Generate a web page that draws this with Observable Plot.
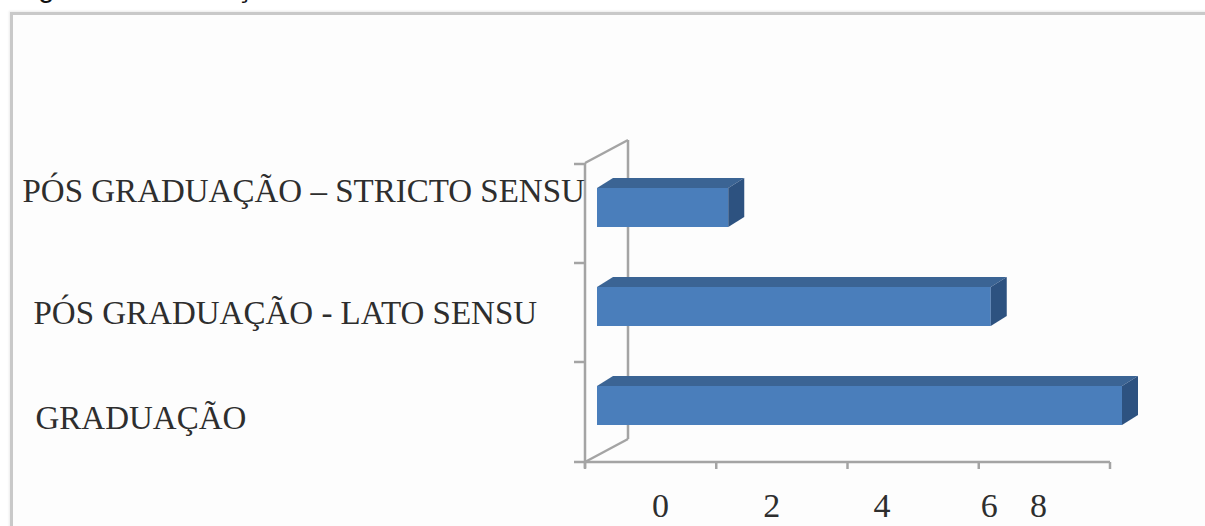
<!DOCTYPE html>
<html lang="pt">
<head>
<meta charset="utf-8">
<script src="https://cdn.jsdelivr.net/npm/d3@7"></script>
<script src="https://cdn.jsdelivr.net/npm/@observablehq/plot@0.6"></script>
<style>
  html, body { margin: 0; padding: 0; background: #fff; width: 1205px; height: 526px; overflow: hidden; }
  #title {
    position: absolute; left: 14px; top: -27px;
    font: 29px/29px "Liberation Sans", Arial, sans-serif;
    white-space: nowrap; color: #111;
  }
  #frame {
    position: absolute; left: 10px; top: 12px; width: 1300px; height: 600px;
    border-left: 3px solid #c9c9c9; border-top: 3px solid #c9c9c9;
    background: #fdfdfd;
    box-shadow: -1px -1px 2px rgba(0,0,0,0.08);
  }
  #chart { position: absolute; left: 0; top: 0; }
</style>
</head>
<body>
<div id="title">Figura 4 – Formação acadêmica dos docentes entrevistados</div>
<div id="frame"></div>
<div id="chart"></div>
<script>
// Formação acadêmica: number of respondents per level
const categories = ["PÓS GRADUAÇÃO – STRICTO SENSU", "PÓS GRADUAÇÃO - LATO SENSU", "GRADUAÇÃO"];
const counts = [2, 6, 8];
const xTicks = [0, 2, 4, 6, 8];

const rows = categories.map((category, i) => ({category, count: counts[i]}));

// look of the 3-D bars and walls
const FRONT = "#4a7ebb", TOP = "#3b6494", SIDE = "#2d5280", GRID = "#a4a4a4", INK = "#2e2e2e";
const SERIF = "'Liberation Serif', 'DejaVu Serif', serif";
const WALL = [43, -23];                 // offset of the back wall
const BAR = {dx: 12, dy: -6, depth: [16, -10], inset: 30};
// label placement
const labelNudge = [[-563, -23], [-552, 0], [-550, 6]];
const tickLabelShift = [75, 55, 34, 10, -72];

// walls, floor edge and ticks
function chrome(index, scales, values, dims) {
  const {x, y} = scales;
  const x0 = x(0), x1 = x(xTicks[xTicks.length - 1]);
  const top = dims.marginTop, bot = dims.height - dims.marginBottom;
  const g = d3.create("svg:g").attr("stroke", GRID).attr("stroke-width", 2.5).attr("fill", "none");
  const seg = (a, b, c, d) => g.append("line").attr("x1", a).attr("y1", b).attr("x2", c).attr("y2", d);
  seg(x0, top, x0, bot + 6);
  seg(x0 + WALL[0], top + WALL[1], x0 + WALL[0], bot + WALL[1]);
  seg(x0, top, x0 + WALL[0], top + WALL[1]);
  seg(x0, bot, x0 + WALL[0], bot + WALL[1]);
  seg(x0 - 11, bot, x1, bot);
  for (const t of xTicks) seg(x(t), bot, x(t), bot + 7);
  for (const c of categories) seg(x0 - 11, y(c), x0, y(c));
  return g.node();
}

// top and side faces of each bar
function barFaces(index, scales) {
  const {x, y} = scales;
  const bw = typeof y.bandwidth === "function" ? y.bandwidth() : y.bandwidth;
  const [ddx, ddy] = BAR.depth;
  const g = d3.create("svg:g");
  for (const r of rows) {
    const xa = x(0) + BAR.dx, xb = x(r.count) + BAR.dx;
    const yt = y(r.category) + BAR.inset + BAR.dy;
    const yb = y(r.category) + bw - BAR.inset + BAR.dy;
    g.append("path").attr("fill", TOP)
      .attr("d", `M${xa},${yt}L${xb},${yt}L${xb + ddx},${yt + ddy}L${xa + ddx},${yt + ddy}Z`);
    g.append("path").attr("fill", SIDE)
      .attr("d", `M${xb},${yt}L${xb + ddx},${yt + ddy}L${xb + ddx},${yb + ddy}L${xb},${yb}Z`);
  }
  return g.node();
}

const chart = Plot.plot({
  width: 1205,
  height: 526,
  marginLeft: 585,
  marginRight: 95,
  marginTop: 163,
  marginBottom: 64,
  style: {background: "transparent", overflow: "visible"},
  x: {domain: [0, 8], axis: null},
  y: {domain: categories, axis: null, padding: 0},
  marks: [
    chrome,
    Plot.barX(rows, {
      x: "count", y: "category", fill: FRONT,
      insetTop: BAR.inset, insetBottom: BAR.inset, dx: BAR.dx, dy: BAR.dy
    }),
    barFaces,
    ...categories.map((c, i) => Plot.text([c], {
      y: d => d, text: d => d, frameAnchor: "left", textAnchor: "start",
      dx: labelNudge[i][0], dy: labelNudge[i][1],
      fontSize: 33, fontFamily: SERIF, fill: INK
    })),
    ...xTicks.map((t, i) => Plot.text([t], {
      x: d => d, text: d => String(d), frameAnchor: "bottom",
      dy: 54, dx: tickLabelShift[i],
      fontSize: 34, fontFamily: SERIF, fill: INK
    }))
  ]
});

document.getElementById("chart").append(chart);
</script>
</body>
</html>
